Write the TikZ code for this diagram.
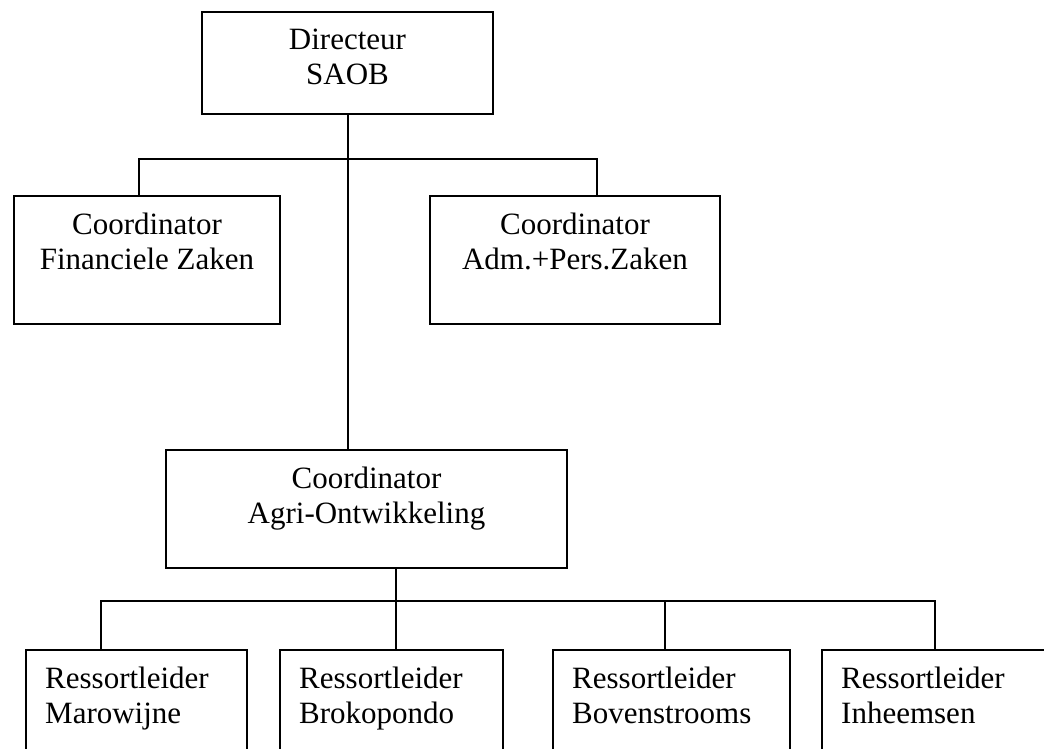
\documentclass[tikz,border=0pt]{standalone}
\usepackage{fontspec}
\setmainfont{Liberation Serif}
\usetikzlibrary{positioning}

\tikzset{
  orgbox/.style={draw, line width=2pt, inner sep=0pt, anchor=north west},
  boxtext/.style={font=\fontsize{31}{35}\selectfont, inner sep=0pt, align=center},
  lefttext/.style={boxtext, align=left, anchor=north west, xshift=20pt, yshift=-18pt},
  orgline/.style={line width=2pt},
}

\begin{document}
\begin{tikzpicture}[x=1pt,y=-1pt]

\clip (0,0) rectangle (1044,749);

	% top box
	\node[orgbox, minimum width=291pt, minimum height=102pt,
	  label={[boxtext, anchor=north, yshift=-18pt]north:Directeur\\SAOB}] (dir) at (201,11) {};
	% two coordinators under the director
	\node[orgbox, minimum width=266pt, minimum height=128pt,
	  label={[boxtext, anchor=north, yshift=-18pt]north:Coordinator\\Financiele Zaken}] (fin) at (13,195) {};
	\node[orgbox, minimum width=290pt, minimum height=128pt,
	  label={[boxtext, anchor=north, yshift=-18pt]north:Coordinator\\Adm.+Pers.Zaken}] (adm) at (429,195) {};
	% agri box
	\node[orgbox, minimum width=401pt, minimum height=118pt,
	  label={[boxtext, anchor=north, yshift=-18pt]north:Coordinator\\Agri-Ontwikkeling}] (agri) at (165,449) {};
	% ressort boxes - run off the page
	\node[orgbox, minimum width=221pt, minimum height=130pt,
	  label={[lefttext]north west:Ressortleider\\Marowijne}] (mar) at (25,649) {};
	\node[orgbox, minimum width=223pt, minimum height=130pt,
	  label={[lefttext]north west:Ressortleider\\Brokopondo}] (bro) at (279,649) {};
	\node[orgbox, minimum width=237pt, minimum height=130pt,
	  label={[lefttext]north west:Ressortleider\\Bovenstrooms}] (bov) at (552,649) {};
	\node[orgbox, minimum width=260pt, minimum height=130pt,
	  label={[lefttext]north west:Ressortleider\\Inheemsen}] (inh) at (821,649) {};

	% split points
	\coordinate (splitL) at (139,159);
	\coordinate (splitR) at (597,159);
	\coordinate (tap) at (396,601);
	\coordinate (r1) at (101,601);
	\coordinate (r3) at (665,601);
	\coordinate (r4) at (935,601);

	%draw lines - top level
	\draw[orgline] (dir.south) -- (dir.south |- agri.north);
	\draw[orgline] (fin.north -| splitL) -- (splitL) -- (splitR) -- (adm.north -| splitR);
	%draw lines - ressort level
	\draw[orgline] (agri.south -| tap) -- (bro.north -| tap);
	\draw[orgline] (mar.north -| r1) -- (r1) -- (r4) -- (inh.north -| r4);
	\draw[orgline] (r3) -- (bov.north -| r3);

\end{tikzpicture}
\end{document}
